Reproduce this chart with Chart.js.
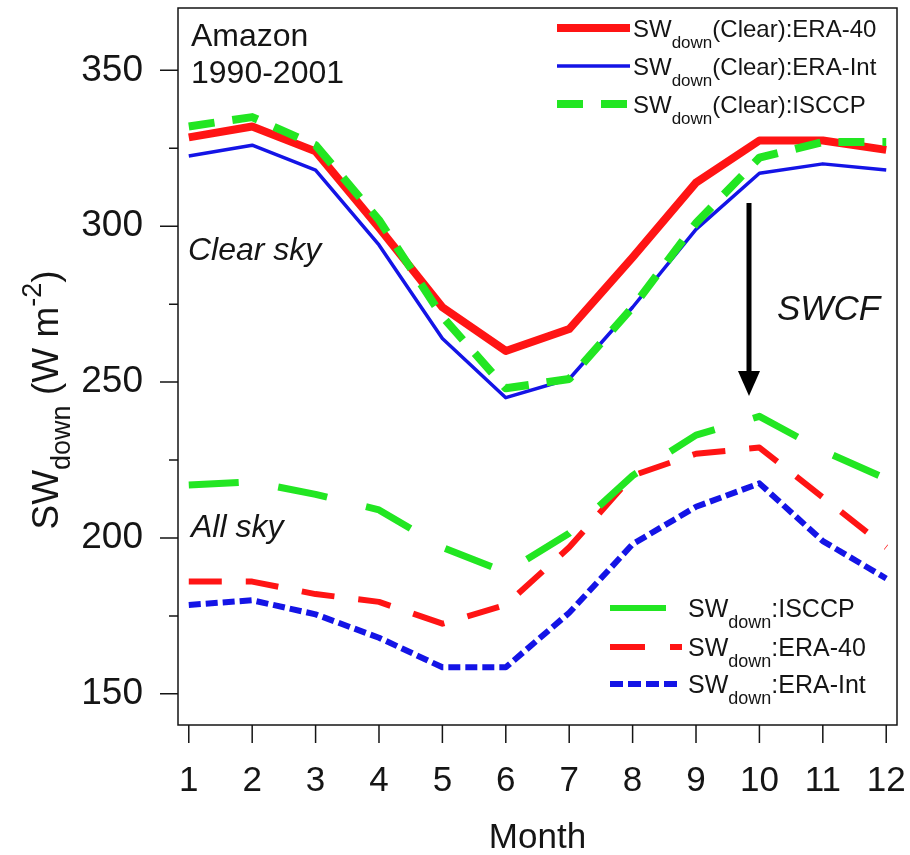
<!DOCTYPE html>
<html>
<head>
<meta charset="utf-8">
<script src="https://cdn.jsdelivr.net/npm/chart.js@4.4.1/dist/chart.umd.min.js"></script>
<style>
  html, body { margin: 0; padding: 0; background: #fff; }
  #wrap { width: 910px; height: 855px; }
</style>
</head>
<body>
<div id="wrap"><canvas id="c" width="910" height="855"></canvas></div>
<script>
/* =========================
   Data
========================= */
const months = [1, 2, 3, 4, 5, 6, 7, 8, 9, 10, 11, 12];

// clear sky
const clearEra40  = [328.5, 332, 324, 299.5, 274, 260, 267, 290, 314, 327.5, 327.5, 324.5];
const clearEraInt = [322.5, 326, 318, 294, 264, 245, 251, 274, 299, 317, 320, 318];
const clearIsccp  = [332, 335, 326, 302, 271, 248, 251, 274, 301, 322, 327, 327];

// all sky
const allIsccp  = [217, 218, 214, 209, 197, 189, 201.5, 220, 233, 239, 228, 219];
const allEra40  = [186, 186, 182, 179.5, 172.5, 178.5, 197, 220, 227, 229, 213, 197];
const allEraInt = [178.5, 180, 175.5, 168, 158.5, 158.5, 176, 198, 210, 217.5, 199, 187];

const xTicks = [1, 2, 3, 4, 5, 6, 7, 8, 9, 10, 11, 12];
const yTicks = [150, 200, 250, 300, 350];
const yMinor = [175, 225, 275, 325];

const FONT = "'Liberation Sans', Arial, sans-serif";
const RED = "#ff1414";
const BLUE = "#1414e6";
const GREEN = "#22e622";
const INK = "#151515";

function pts(arr){ return arr.map((v, i) => ({ x: months[i], y: v })); }

// draw text with sub/superscripts, returns end x
function rich(ctx, x, y, parts, measureOnly){
  let cx = x;
  parts.forEach(p => {
    ctx.font = (p.style || "") + " " + p.size + "px " + FONT;
    if(!measureOnly) ctx.fillText(p.t, cx, y + (p.dy || 0));
    cx += ctx.measureText(p.t).width;
  });
  return cx;
}

function legendRow(ctx, x0, x1, y, color, width, dash, tx, parts){
  ctx.save();
  ctx.strokeStyle = color;
  ctx.lineWidth = width;
  ctx.setLineDash(dash);
  ctx.lineCap = "butt";
  ctx.beginPath();
  ctx.moveTo(x0, y);
  ctx.lineTo(x1, y);
  ctx.stroke();
  ctx.restore();
  ctx.fillStyle = INK;
  ctx.textBaseline = "alphabetic";
  ctx.textAlign = "left";
  rich(ctx, tx, y + 9, parts);
}

/* =========================
   Overlay: box, ticks, texts, arrow, legends
========================= */
const overlay = {
  id: "overlay",
  afterDraw(chart){
    const { ctx, chartArea: a, scales: { x, y } } = chart;
    ctx.save();

    // box
    ctx.strokeStyle = INK;
    ctx.lineWidth = 1.5;
    ctx.strokeRect(a.left, a.top, a.right - a.left, a.bottom - a.top);

    // tick marks
    ctx.beginPath();
    yTicks.forEach(v => { const p = y.getPixelForValue(v); ctx.moveTo(a.left - 18, p); ctx.lineTo(a.left, p); });
    yMinor.forEach(v => { const p = y.getPixelForValue(v); ctx.moveTo(a.left - 9, p); ctx.lineTo(a.left, p); });
    xTicks.forEach(v => { const p = x.getPixelForValue(v); ctx.moveTo(p, a.bottom); ctx.lineTo(p, a.bottom + 18); });
    ctx.stroke();

    // labels inside plot
    ctx.fillStyle = INK;
    ctx.textAlign = "left";
    ctx.textBaseline = "alphabetic";
    ctx.font = "32px " + FONT;
    ctx.fillText("Amazon", 191, 46);
    ctx.fillText("1990-2001", 191, 83);
    ctx.font = "italic 32px " + FONT;
    ctx.fillText("Clear sky", 188, 260);
    ctx.fillText("All sky", 191, 537);
    ctx.font = "italic 35px " + FONT;
    ctx.fillText("SWCF", 777, 320);

    // SWCF arrow
    const ax = 749;
    ctx.strokeStyle = "#000";
    ctx.fillStyle = "#000";
    ctx.lineWidth = 5;
    ctx.beginPath();
    ctx.moveTo(ax, 203);
    ctx.lineTo(ax, 375);
    ctx.stroke();
    ctx.beginPath();
    ctx.moveTo(ax - 11, 371);
    ctx.lineTo(ax + 11, 371);
    ctx.lineTo(ax, 396);
    ctx.closePath();
    ctx.fill();

    // top legend (clear sky)
    const sub = (rest, big, small, drop) => [
      { t: "SW", size: big },
      { t: "down", size: small, dy: drop },
      { t: rest, size: big }
    ];
    legendRow(ctx, 557, 630, 28, RED, 8, [], 633, sub("(Clear):ERA-40", 24, 17, 11));
    legendRow(ctx, 557, 630, 66, BLUE, 3.5, [], 633, sub("(Clear):ERA-Int", 24, 17, 11));
    legendRow(ctx, 557, 630, 104, GREEN, 8, [26, 18], 633, sub("(Clear):ISCCP", 24, 17, 11));

    // bottom legend (all sky)
    legendRow(ctx, 610, 666, 608, GREEN, 6, [], 688, sub(":ISCCP", 25, 18, 11));
    legendRow(ctx, 610, 682, 647, RED, 6, [35, 25], 688, sub(":ERA-40", 25, 18, 11));
    legendRow(ctx, 610, 682, 684, BLUE, 6, [13, 5], 688, sub(":ERA-Int", 25, 18, 11));

    // x title
    ctx.fillStyle = INK;
    ctx.font = "35px " + FONT;
    ctx.textAlign = "center";
    ctx.fillText("Month", (a.left + a.right) / 2, 848);

    // y title (rotated)
    ctx.save();
    ctx.translate(58, 400);
    ctx.rotate(-Math.PI / 2);
    ctx.textAlign = "left";
    const yParts = [
      { t: "SW", size: 37 },
      { t: "down", size: 27, dy: 12 },
      { t: " (W m", size: 37 },
      { t: "-2", size: 27, dy: -17 },
      { t: ")", size: 37 }
    ];
    const w = rich(ctx, 0, 0, yParts, true);
    rich(ctx, -w / 2, 0, yParts);
    ctx.restore();

    ctx.restore();
  }
};

/* =========================
   Chart
========================= */
const ctx = document.getElementById("c").getContext("2d");

new Chart(ctx, {
  type: "line",
  data: {
    datasets: [
      { label: "SWdown(Clear):ISCCP", data: pts(clearIsccp), borderColor: GREEN, borderWidth: 8, borderDash: [26, 18] },
      { label: "SWdown(Clear):ERA-Int", data: pts(clearEraInt), borderColor: BLUE, borderWidth: 3.5 },
      { label: "SWdown(Clear):ERA-40", data: pts(clearEra40), borderColor: RED, borderWidth: 8 },
      { label: "SWdown:ISCCP", data: pts(allIsccp), borderColor: GREEN, borderWidth: 7, borderDash: [50, 40] },
      { label: "SWdown:ERA-40", data: pts(allEra40), borderColor: RED, borderWidth: 6, borderDash: [33, 24] },
      { label: "SWdown:ERA-Int", data: pts(allEraInt), borderColor: BLUE, borderWidth: 6, borderDash: [12, 5] }
    ]
  },
  options: {
    responsive: false,
    devicePixelRatio: 1,
    animation: false,
    layout: { padding: { top: 8, right: 13, left: 0, bottom: 0 } },
    elements: {
      point: { radius: 0 },
      line: { tension: 0, fill: false, borderJoinStyle: "round" }
    },
    plugins: {
      legend: { display: false },
      tooltip: { enabled: false }
    },
    scales: {
      x: {
        type: "linear",
        min: 0.83,
        max: 12.17,
        grid: { display: false },
        border: { display: false },
        ticks: { font: { size: 35, family: FONT }, color: INK, padding: 27, maxRotation: 0 },
        afterBuildTicks: s => { s.ticks = xTicks.map(v => ({ value: v })); },
        afterFit: s => { s.height = 130; s.paddingLeft = 0; s.paddingRight = 0; }
      },
      y: {
        type: "linear",
        min: 140,
        max: 370,
        grid: { display: false },
        border: { display: false },
        ticks: { font: { size: 37, family: FONT }, color: INK, padding: 27 },
        afterBuildTicks: s => { s.ticks = yTicks.map(v => ({ value: v })); },
        afterFit: s => { s.width = 178; s.paddingTop = 0; s.paddingBottom = 0; }
      }
    }
  },
  plugins: [overlay]
});
</script>
</body>
</html>
